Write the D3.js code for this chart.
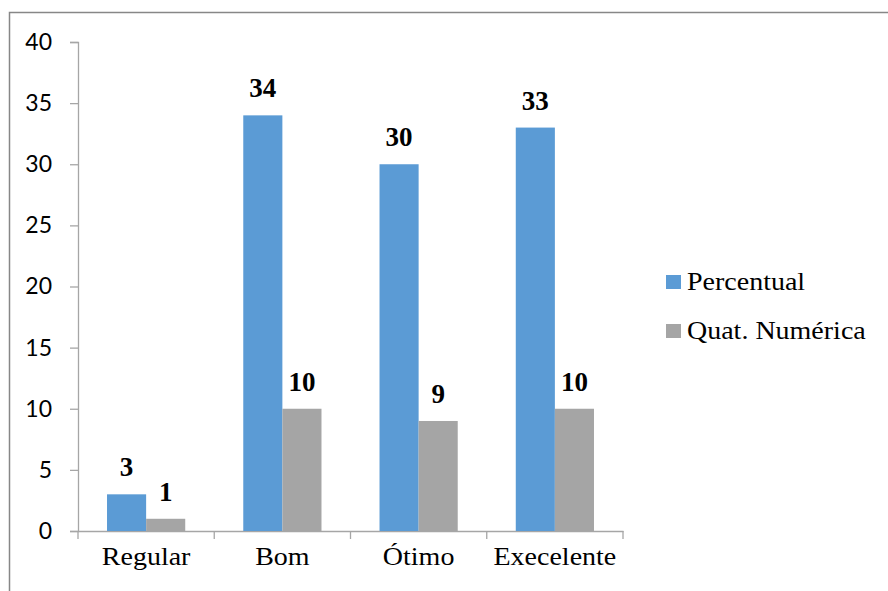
<!DOCTYPE html>
<html>
<head>
<meta charset="utf-8">
<script src="https://cdn.jsdelivr.net/npm/d3@7"></script>
<style>
  body { margin: 0; background: #fff; }
  svg { display: block; }
  .serif { font-family: "Liberation Serif", "Times New Roman", serif; }
  .num { font-family: Lato, "Open Sans", sans-serif; }
</style>
</head>
<body>
<script>
let w = 888;
let h = 591;

let categories = ["Regular", "Bom", "Ótimo", "Execelente"];
let seriesNames = ["Percentual", "Quat. Numérica"];
let percentual = [3, 34, 30, 33];
let quantidade = [1, 10, 9, 10];
let yTicks = [0, 5, 10, 15, 20, 25, 30, 35, 40];
let colors = ["#5B9BD5", "#A5A5A5"];

let values = [percentual, quantidade];

let svg = d3.select("body")
            .append("svg")
            .attr("width", w)
            .attr("height", h);

// outer frame (cut by the picture edge on right and bottom)
svg.append("rect")
   .attr("x", 9.5)
   .attr("y", 12.5)
   .attr("width", 900)
   .attr("height", 600)
   .attr("fill", "none")
   .attr("stroke", "#878787")
   .attr("stroke-width", 1.5);

let xScale = d3.scaleBand()
               .domain(categories)
               .range([78, 623]);

let bw = xScale.bandwidth();
let x1 = d3.scaleBand()
           .domain(seriesNames)
           .range([bw * 0.213, bw * 0.787]);

let yScale = d3.scaleLinear()
               .domain([0, 40])
               .range([531, 42]);

// y axis
let yAxis = d3.axisLeft(yScale)
              .tickValues(yTicks)
              .tickSize(8)
              .tickPadding(18)
              .tickFormat(d3.format("d"));

let gy = svg.append("g")
    .attr("transform", "translate(78,0)")
    .call(yAxis);
gy.attr("font-family", null).attr("font-size", null);
gy.select(".domain").attr("stroke", "#A6A6A6").attr("stroke-width", 1.3);
gy.selectAll(".tick line").attr("stroke", "#A6A6A6").attr("stroke-width", 1.3);
gy.selectAll(".tick text")
  .attr("class", "num")
  .style("font-size", "23px")
  .style("fill", "#000");

// x axis
let xAxis = d3.axisBottom(xScale).tickSize(0).tickPadding(34);
let gx = svg.append("g")
    .attr("transform", "translate(0,531)")
    .call(xAxis);
gx.attr("font-family", null).attr("font-size", null);
gx.select(".domain").attr("stroke", "#A6A6A6").attr("stroke-width", 1.3);
gx.selectAll(".tick text")
  .attr("class", "serif")
  .style("font-size", "25px")
  .style("fill", "#000")
  .attr("dy", "0")
  .attr("transform", "scale(1.12,1)")
  .attr("x", 0);

// category boundary ticks
let bounds = categories.map(c => xScale(c)).concat([xScale.range()[1]]);
svg.selectAll(".xbound")
   .data(bounds)
   .enter()
   .append("line")
   .attr("class", "xbound")
   .attr("x1", d => d)
   .attr("x2", d => d)
   .attr("y1", 531)
   .attr("y2", 539)
   .attr("stroke", "#A6A6A6")
   .attr("stroke-width", 1.3);

// bars
let groups = svg.selectAll(".grp")
    .data(categories)
    .enter()
    .append("g")
    .attr("class", "grp")
    .attr("transform", d => "translate(" + xScale(d) + ",0)");

seriesNames.forEach((s, si) => {
  groups.append("rect")
    .attr("x", x1(s))
    .attr("y", (d, i) => yScale(values[si][i]))
    .attr("width", x1.bandwidth())
    .attr("height", (d, i) => yScale(0) - yScale(values[si][i]))
    .attr("fill", colors[si]);

  groups.append("text")
    .attr("class", "serif")
    .attr("x", x1(s) + x1.bandwidth() / 2)
    .attr("y", (d, i) => yScale(values[si][i]) - 18)
    .attr("text-anchor", "middle")
    .style("font-weight", "bold")
    .style("font-size", "27px")
    .text((d, i) => values[si][i]);
});

// legend
let legend = svg.selectAll(".legend")
    .data(seriesNames)
    .enter()
    .append("g")
    .attr("class", "legend")
    .attr("transform", (d, i) => "translate(666," + (275 + i * 49) + ")");

legend.append("rect")
  .attr("width", 15)
  .attr("height", 14)
  .attr("fill", (d, i) => colors[i]);

legend.append("text")
  .attr("class", "serif")
  .attr("x", 21)
  .attr("y", 15)
  .style("font-size", "25px")
  .attr("transform", "translate(21,0) scale(1.12,1) translate(-21,0)")
  .text(d => d);
</script>
</body>
</html>
